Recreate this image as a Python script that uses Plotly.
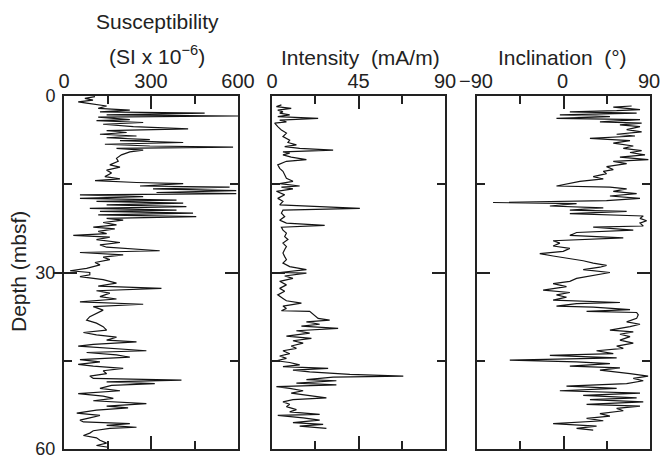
import plotly.graph_objects as go

# ---------------- data ----------------
sus_depth = [0.1,0.4,0.7,1.0,1.2,1.7,2.1,2.4,2.7,2.9,3.2,3.4,3.6,4.0,4.2,4.5,4.8,5.2,5.6,5.9,6.2,6.5,6.8,7.1,7.4,7.6,7.9,8.2,8.5,8.7,8.9,9.2,9.5,10.0,10.6,11.1,11.7,12.1,12.6,13.1,13.7,14.1,14.4,14.7,14.9,15.3,15.5,15.8,16.1,16.4,16.6,16.8,17.1,17.4,17.7,17.9,18.2,18.5,18.8,19.1,19.4,19.6,19.9,20.2,20.5,20.8,21.1,21.5,21.9,22.3,22.6,23.0,23.4,23.7,24.0,24.4,24.9,25.3,25.7,26.3,26.6,27.0,27.4,27.8,28.3,28.7,29.3,29.7,30.0,
             30.4,30.7,31.2,31.8,32.3,32.7,33.1,33.5,34.1,34.5,35.0,35.4,35.8,36.4,36.9,37.5,38.1,38.6,39.2,39.8,40.2,40.6,41.0,41.5,41.8,42.2,42.5,42.9,43.3,43.6,44.0,44.4,44.8,45.2,45.6,45.9,46.3,46.7,47.2,47.6,48.0,48.3,48.6,48.9,49.2,49.7,50.1,50.6,51.0,51.4,51.8,52.3,52.7,53.0,53.4,53.9,54.3,54.7,55.1,55.4,55.7,56.0,56.3,56.5,56.9,57.3,57.7,58.1,58.5,59.0,59.4,59.7]
sus_value = [107,72,100,49,78,147,118,227,124,485,147,600,118,227,112,273,135,239,428,147,216,124,250,147,296,193,411,141,296,583,181,273,227,198,181,187,158,193,147,164,141,193,107,250,411,262,571,307,594,319,594,55,273,55,388,112,411,147,422,89,388,124,445,118,456,147,204,135,181,101,175,118,147,32,158,112,193,124,147,330,55,204,135,158,107,124,78,21,89,
             89,55,135,181,118,336,112,158,124,181,55,273,101,135,112,89,78,112,135,147,67,112,181,147,250,101,49,158,284,78,181,227,55,124,49,101,204,135,147,89,101,405,147,313,164,124,193,49,135,170,101,284,147,221,112,44,124,89,55,67,227,147,250,158,101,89,67,112,124,147,112,153]

int_depth = [1.5,1.8,2.1,2.4,2.7,2.9,3.2,3.5,3.8,4.1,4.4,4.6,5.2,5.8,6.3,6.9,7.5,7.9,8.3,8.6,8.9,9.2,9.5,9.7,10.0,10.4,10.8,11.1,11.7,12.3,12.8,13.4,14.0,14.5,14.9,15.3,15.5,15.8,16.2,16.8,17.4,17.9,18.5,19.1,19.4,19.9,20.5,21.1,21.6,22.0,22.3,22.8,23.3,23.9,24.4,25.0,25.6,26.1,26.7,27.3,27.8,28.4,29.0,29.5,30.0,
             30.1,30.6,31.0,31.5,32.1,32.7,33.2,33.8,34.4,34.8,35.2,35.7,36.1,36.5,36.6,37.8,38.1,38.4,38.8,39.1,39.5,39.9,40.3,40.8,41.2,41.6,42.0,42.5,42.9,43.3,43.8,44.2,44.6,45.0,45.3,45.7,46.0,46.3,46.6,46.9,47.3,47.6,47.8,48.2,48.4,48.8,49.1,49.4,49.7,50.1,50.5,50.9,51.3,51.6,52.0,52.4,52.8,53.3,53.7,54.1,54.3,54.7,55.1,55.5,55.8,56.1,56.5]
int_value = [4.9,2.3,10,3,5.7,4,9.2,3,24,4,7.5,1.4,3,4.9,7.5,5.7,9.2,8.3,12.7,6.6,14.4,31.8,5.7,9.2,5.7,10,17.9,7.5,3,4,5.7,6.6,7.5,10.9,4,14.4,4.9,10.9,2.3,6.6,3,5.7,4,45.7,5.7,4.9,6.6,4,7.5,27.4,4.9,5.7,7.5,6.6,8.3,5.7,7.5,6.6,5.7,6.6,7.5,5.7,9.2,17.9,4,
             17.9,6.6,10.9,4,7.5,4,6.6,3,5.7,7.5,15.3,5.7,7.5,4.9,19.6,24,30,17.9,24.8,15.3,34.4,12.7,19.6,7.5,20.5,10.9,16.2,10,12.7,5.7,9.2,4,7.5,2.3,9.2,14.4,5.7,29.2,10.9,19.6,40.5,68.3,31.8,17.9,33.5,12.7,33.5,2.3,9.2,16.2,10,19.6,28.3,10.9,5.7,9.2,7.5,12.7,9.2,24.8,3,16.2,24.8,10.9,26.6,14.4,28.3]

inc_depth = [1.7,1.9,2.3,2.5,2.7,2.9,3.2,3.5,3.8,4.0,4.4,4.6,4.9,5.2,5.7,6.1,6.5,6.8,7.2,7.6,8.0,8.5,8.9,9.3,9.6,10.0,10.4,10.8,11.1,11.5,12.0,12.5,12.8,13.2,13.7,14.1,14.5,14.9,15.3,15.5,15.8,16.2,16.6,17.0,17.4,17.8,18.1,18.3,18.7,19.0,19.4,19.6,20.0,20.4,20.8,21.2,21.6,22.1,22.3,22.8,23.2,23.7,24.1,24.6,25.0,25.5,25.9,26.4,26.8,27.2,27.6,28.0,28.4,28.8,29.1,29.5,30.0,
             30.4,31.0,31.5,31.9,32.4,33.0,33.4,33.8,34.2,34.7,35.1,35.3,35.7,35.9,36.3,36.6,36.8,37.2,37.8,38.4,38.8,39.2,39.8,40.1,40.5,40.9,41.5,42.0,42.5,42.9,43.3,43.8,44.1,44.5,44.9,45.2,45.5,45.9,46.2,46.6,47.2,47.6,48.0,48.4,48.9,49.3,49.7,50.1,50.5,50.9,51.3,51.6,52.0,52.4,52.7,53.1,53.5,54.0,54.4,54.8,55.2,55.7,56.1,56.5,56.8]
inc_value = [70.9,51.8,79.6,55.3,6.6,76.1,-3.8,48.3,-7.3,79.6,37.9,81.3,58.7,79.6,65.7,81.3,55.3,74.4,27.5,69.2,51.8,72.6,62.2,81.3,69.2,84.8,58.7,88.3,51.8,65.7,44.8,51.8,41.4,44.8,30.9,41.4,17,3.1,-7.3,48.3,65.7,51.8,76.1,48.3,79.6,44.8,-73.3,13.6,-14.2,41.4,6.6,65.7,6.6,83,79.6,86.5,79.6,83,30.9,72.6,13.6,6.6,62.2,-10.8,-3.8,-10.8,6.6,-0.3,-24.7,-10.8,6.6,20.5,30.9,44.8,37.9,20.5,48.3,
             34.4,13.6,6.6,-10.8,3.1,-21.2,6.6,-7.3,3.1,-10.8,58.7,13.6,-7.3,30.9,69.2,24,76.1,77.8,76.1,65.7,79.6,69.2,48.3,72.6,58.7,69.2,58.7,72.6,55.3,62.2,34.4,51.8,-14.2,55.3,-55.9,13.6,48.3,6.6,58.7,37.9,69.2,88,72.6,83,65.7,3.1,55.3,-3.8,79.6,20.5,76.1,27.5,83,24,79.6,55.3,62.2,37.9,48.3,24,41.4,-10.8,34.4,13.6,30.9]

sus_ticks = [0, 300, 600]
sus_minor = [150, 450]
int_ticks = [0, 45, 90]
int_minor = [22.5, 67.5]
inc_ticks = [-90, 0, 90]
inc_minor = [-45, 45]
depth_ticks = [0, 30, 60]
depth_minor = [15, 45]
depth_outer_tick = [30]

# ---------------- figure ----------------
W, H = 661, 458
INK = "#222222"
FONT = "Liberation Sans, Arial, sans-serif"
FS = 21      # titles
FS_X = 20    # x tick labels
FS_Y = 18    # depth tick labels

def px(x):
    return x / W

def py(y):
    return 1 - y / H

top, bot = 96, 449
panels = [(64, 238), (272, 445), (477, 650)]

fig = go.Figure()
series = [(sus_value, sus_depth), (int_value, int_depth), (inc_value, inc_depth)]
for i, (xv, yv) in enumerate(series):
    sfx = "" if i == 0 else str(i + 1)
    fig.add_trace(go.Scatter(x=xv, y=yv, mode="lines",
                             line=dict(color="#141414", width=1.2),
                             xaxis="x" + sfx, yaxis="y" + sfx,
                             showlegend=False, hoverinfo="skip"))
# carrier for the outward depth tick of the first panel
fig.add_trace(go.Scatter(x=[None], y=[None], mode="lines", xaxis="x", yaxis="y4",
                         showlegend=False, hoverinfo="skip"))

xspecs = [([0, 600], sus_ticks, sus_minor), ([0, 90], int_ticks, int_minor), ([-90, 90], inc_ticks, inc_minor)]
layout = dict(width=W, height=H, margin=dict(l=0, r=0, t=0, b=0),
              paper_bgcolor="white", plot_bgcolor="white",
              font=dict(family=FONT, size=FS, color=INK), showlegend=False)
for i, ((x0, x1), (rng, tv, mv)) in enumerate(zip(panels, xspecs)):
    sfx = "" if i == 0 else str(i + 1)
    layout["xaxis" + sfx] = dict(
        domain=[px(x0), px(x1)], range=rng, side="top", anchor="y" + sfx,
        tickvals=tv, ticktext=[str(v) if v >= 0 else "\u2212" + str(-v) for v in tv],
        ticks="inside", ticklen=13, tickwidth=2, tickcolor=INK,
        showline=True, linewidth=2, linecolor=INK, mirror="ticks",
        minor=dict(tickvals=mv, ticks="inside", ticklen=8, tickwidth=2, tickcolor=INK),
        showgrid=False, zeroline=False, automargin=False,
        ticklabeloverflow="allow", ticklabelshift=(-1 if i == 2 else 0),
        tickfont=dict(family=FONT, size=FS_X, color=INK), ticklabelstandoff=-2)
    layout["yaxis" + sfx] = dict(
        domain=[py(bot), py(top)], range=[60, 0], anchor="x" + sfx,
        tickvals=depth_ticks, ticks="inside", ticklen=13, tickwidth=2, tickcolor=INK,
        showline=True, linewidth=2, linecolor=INK, mirror="ticks",
        minor=dict(tickvals=depth_minor, ticks="inside", ticklen=8, tickwidth=2, tickcolor=INK),
        showgrid=False, zeroline=False, automargin=False,
        ticklabeloverflow="allow",
        showticklabels=(i == 0), ticklabelstandoff=3,
        tickfont=dict(family=FONT, size=FS_Y, color=INK))

layout["yaxis4"] = dict(
    overlaying="y", anchor="x", side="left", range=[60, 0],
    tickvals=depth_outer_tick, ticks="outside", ticklen=10, tickwidth=2, tickcolor=INK,
    showline=False, showticklabels=False, showgrid=False, zeroline=False, automargin=False)

ann = [
    dict(text="Susceptibility", x=px(157), y=py(21)),
    dict(text="(SI x 10<sup>\u22126</sup>)", x=px(157), y=py(55)),
    dict(text="Intensity  (mA/m)", x=px(360), y=py(57)),
    dict(text="Inclination  (\u00b0)", x=px(562), y=py(57)),
    dict(text="Depth (mbsf)", x=px(18), y=py(272), textangle=-90),
]
layout["annotations"] = [dict(a, xref="paper", yref="paper", showarrow=False,
                              xanchor="center", yanchor="middle",
                              font=dict(family=FONT, size=FS, color=INK)) for a in ann]
fig.update_layout(**layout)
fig.write_html("out.html", config={"displayModeBar": False, "staticPlot": True},
               post_script="document.body.style.margin='0px';document.body.style.overflow='hidden';")
